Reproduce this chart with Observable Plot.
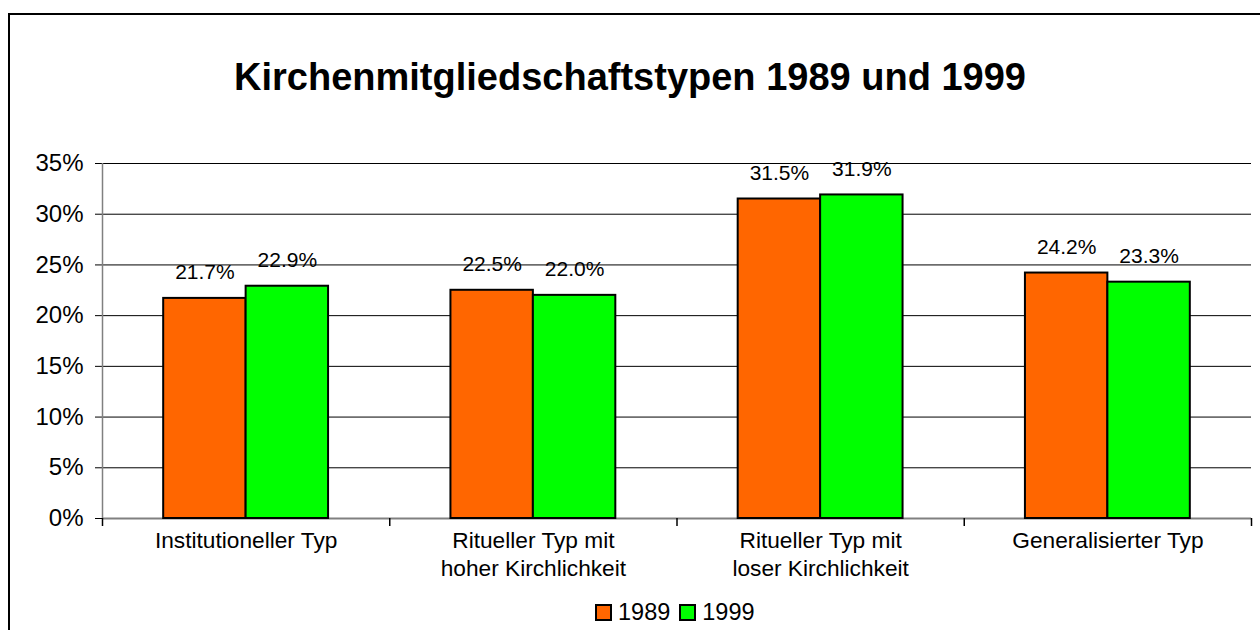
<!DOCTYPE html>
<html><head><meta charset="utf-8">
<script src="https://cdn.jsdelivr.net/npm/d3@7"></script>
<script src="https://cdn.jsdelivr.net/npm/@observablehq/plot@0.6"></script>
<style>
body{margin:0;background:#fff;font-family:"Liberation Sans",Arial,sans-serif;}
#wrap{position:relative;width:1260px;height:630px;overflow:hidden;background:#fff;}
#border{position:absolute;left:8px;top:13px;width:1400px;height:800px;border-left:2px solid #000;border-top:2px solid #000;}
#title{position:absolute;left:0;width:1260px;top:55px;text-align:center;font-weight:bold;font-size:38px;line-height:44px;}
#chart{position:absolute;left:0;top:0;}
#legend{position:absolute;left:595px;top:599px;display:flex;align-items:center;font-size:23.5px;line-height:26px;}
.sw{width:13px;height:13px;border:2px solid #000;display:inline-block;margin-right:6px;}
.lab{margin-right:9px;}
</style></head><body>
<div id="wrap"><div id="border"></div><div id="title">Kirchenmitgliedschaftstypen 1989 und 1999</div><div id="chart"></div><div id="legend"></div></div>
<script>
const categories = ["Institutioneller Typ","Ritueller Typ mit\nhoher Kirchlichkeit","Ritueller Typ mit\nloser Kirchlichkeit","Generalisierter Typ"];
const years = ["1989","1999"];
const values1989 = [21.7,22.5,31.5,24.2];
const values1999 = [22.9,22.0,31.9,23.3];
const yTicks = [0,5,10,15,20,25,30,35];
const colors = ["#FF6600","#00FF00"];

const series = [values1989, values1999];
const bw = 0.287; // bar width as share of a category slot
const rows = [];
categories.forEach((c, i) => {
  years.forEach((y, j) => {
    const x1 = i + 0.5 + (j - 1) * bw;
    rows.push({cat: c, i, j, year: y, value: series[j][i], x1, x2: x1 + bw});
  });
});

const plot = Plot.plot({
  width: 1260, height: 600,
  marginLeft: 102, marginRight: 9, marginTop: 163, marginBottom: 82,
  style: {fontFamily: "Liberation Sans, Arial, sans-serif", background: "transparent", color: "#000", overflow: "visible"},
  x: {domain: [0, categories.length], axis: null},
  y: {domain: [0, 35], axis: null},
  color: {domain: years, range: colors},
  marks: [
    Plot.ruleY(yTicks.filter(d => d > 0), {stroke: "#000", strokeWidth: 1}),
    Plot.axisY({ticks: yTicks, tickFormat: d => d + "%", label: null, tickSize: 7, tickPadding: 12, fontSize: 24, stroke: "#000", fill: "#000", strokeOpacity: 1}),
    Plot.ruleX([0], {y1: 0, y2: 35, stroke: "#808080", strokeWidth: 1.5}),
    Plot.ruleY([0], {stroke: "#808080", strokeWidth: 2}),
    Plot.axisX({ticks: d3.range(categories.length + 1), tickFormat: () => "", label: null, tickSize: 8, stroke: "#000", strokeWidth: 1.5, strokeOpacity: 1}),
    Plot.rectY(rows, {x1: "x1", x2: "x2", y: "value", fill: "year", stroke: "#000", strokeWidth: 2}),
    Plot.text(rows, {x: d => (d.x1 + d.x2) / 2, y: "value", text: d => d.value.toFixed(1) + "%", dy: -26, fontSize: 21, fill: "#000"}),
    Plot.text(categories, {x: (d, i) => i + 0.5, frameAnchor: "bottom", text: d => d, lineAnchor: "top", dy: 10, lineHeight: 1.23, fontSize: 22.7, fill: "#000"})
  ]
});
document.getElementById("chart").appendChild(plot);

const leg = document.getElementById("legend");
years.forEach((y, j) => {
  const s = document.createElement("span"); s.className = "sw"; s.style.background = colors[j];
  const t = document.createElement("span"); t.className = "lab"; t.textContent = y;
  leg.appendChild(s); leg.appendChild(t);
});
</script>
</body></html>
